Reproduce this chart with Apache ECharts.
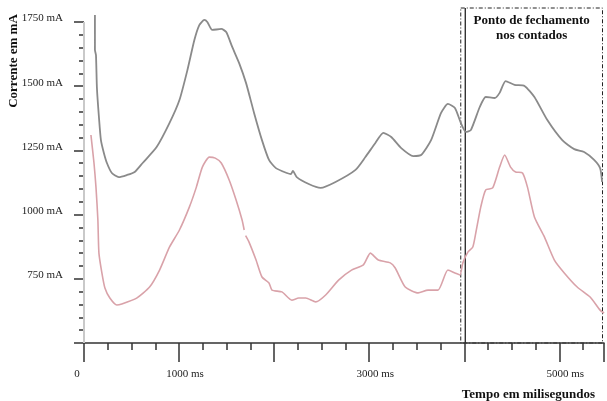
<!DOCTYPE html>
<html><head><meta charset="utf-8">
<script src="https://cdn.jsdelivr.net/npm/echarts@6/dist/echarts.min.js"></script>
<style>html,body{margin:0;padding:0;background:#fff}#c{width:607px;height:401px}</style>
</head><body><div id="c"></div>
<script>
// Time in ms, current in mA
const grayTime = [115,115,126,136,157,178,209,241,293,366,450,533,617,764,900,1004,1088,1161,1213,1266,1297,1349,1444,1496,1559,1632,1705,1789,1872,1946,2019,2134,2176,2197,2238,2364,2489,2646,2856,2960,3065,3149,3232,3337,3463,3546,3651,3756,3828,3902,3964,4017,4069,4163,4226,4320,4372,4435,4529,4634,4738,4874,5031,5157,5261,5366,5429,5450];
const grayCurrent = [1777,1641,1621,1493,1380,1290,1240,1201,1162,1146,1154,1166,1201,1263,1357,1446,1563,1680,1738,1758,1750,1719,1723,1711,1653,1590,1512,1396,1290,1213,1181,1162,1158,1170,1146,1119,1104,1127,1174,1224,1279,1318,1302,1259,1228,1232,1290,1396,1431,1415,1357,1322,1329,1419,1458,1454,1474,1520,1505,1501,1458,1368,1290,1255,1244,1213,1181,1127];
const pinkTime = [73,105,126,146,157,188,220,272,345,397,554,690,795,900,1004,1109,1182,1245,1318,1381,1444,1527,1600,1663,1685,1692,1700,1736,1810,1872,1946,1977,2082,2186,2259,2333,2437,2542,2678,2814,2939,3012,3096,3222,3274,3379,3515,3619,3724,3828,3902,3954,3985,4038,4090,4121,4174,4226,4299,4372,4425,4487,4540,4613,4665,4738,4843,4948,5052,5188,5324,5429,5471];
const pinkCurrent = [1310,1201,1107,979,850,773,714,675,648,652,675,718,784,874,940,1030,1107,1185,1224,1220,1201,1135,1057,979,940,null,918,893,823,757,734,706,699,667,675,675,660,687,745,784,804,850,823,812,792,718,695,706,706,784,773,765,812,854,874,928,1030,1096,1104,1185,1232,1185,1166,1162,1107,991,913,823,773,718,679,628,617];
const xLabelValues = [0,1000,3000,5000];
const yLabelValues = [750,1000,1250,1500,1750];
const closingStart = 4000;
const closingText = 'Ponto de fechamento\nnos contados';

const FONT = '"Liberation Serif", "DejaVu Serif", serif';
const chart = echarts.init(document.getElementById('c'));
const toPairs = (ts, vs) => ts.map((t, i) => [t, vs[i] == null ? '-' : vs[i]]);

chart.setOption({
  animation: false,
  backgroundColor: '#fff',
  grid: {left: 84, right: 0, top: 22, bottom: 58, containLabel: false},
  title: {
    text: 'Tempo em milisegundos', right: 7, top: 383,
    textStyle: {fontFamily: FONT, fontSize: 13, fontWeight: 'bold', color: '#111'}
  },
  xAxis: {
    type: 'value', min: 0, max: 5470, interval: 1000,
    axisLine: {show: true, lineStyle: {color: '#333', width: 1.5}},
    axisTick: {show: true, inside: false, length: 19, lineStyle: {color: '#333', width: 1.5}},
    minorTick: {show: true, splitNumber: 4, length: 7, lineStyle: {color: '#333', width: 1.5}},
    splitLine: {show: false},
    axisLabel: {
      margin: 26, fontFamily: FONT, fontSize: 11, color: '#222',
      formatter: v => xLabelValues.includes(v) ? (v === 0 ? '{a|0}' : '{b|' + v + ' ms}') : '',
      rich: {
        a: {fontFamily: FONT, fontSize: 11, color: '#222', padding: [0, 14, 0, 0]},
        b: {fontFamily: FONT, fontSize: 11, color: '#222', padding: [0, 0, 0, 12]}
      }
    }
  },
  yAxis: {
    type: 'value', min: 500, max: 1750, interval: 250, offset: 8,
    axisLine: {show: false},
    axisTick: {show: true, length: 10, lineStyle: {color: '#333', width: 1.5}},
    minorTick: {show: true, splitNumber: 5, length: 5, lineStyle: {color: '#333', width: 1.5}},
    splitLine: {show: false},
    axisLabel: {
      margin: 13, fontFamily: FONT, fontSize: 11, color: '#222',
      verticalAlign: 'bottom', lineHeight: 7,
      formatter: v => yLabelValues.includes(v) ? v + ' mA' : ''
    }
  },
  series: [
    {
      type: 'line', data: toPairs(grayTime, grayCurrent), showSymbol: false, smooth: 0.2, clip: false,
      lineStyle: {color: '#8a8a8a', width: 1.8},
      markLine: {
        silent: true, symbol: 'none', label: {show: false},
        lineStyle: {color: '#c9c9c9', width: 2, type: 'solid'},
        data: [{xAxis: 0}]
      }
    },
    {
      type: 'line', data: toPairs(pinkTime, pinkCurrent), showSymbol: false, smooth: 0.2, clip: false,
      connectNulls: false,
      lineStyle: {color: '#d9a2a9', width: 1.6}
    }
  ]
});

// Annotation box for the closing point, positioned from the axis scale
const xs = chart.convertToPixel({xAxisIndex: 0}, closingStart);
const xr = chart.convertToPixel({xAxisIndex: 0}, 5470);
const yb = chart.convertToPixel({yAxisIndex: 0}, 500);
const boxTop = 8;
chart.setOption({
  graphic: [
    {
      type: 'text', silent: true, x: 14, y: 61, rotation: Math.PI / 2,
      style: {text: 'Corrente em mA', font: 'bold 13px ' + FONT, fill: '#111', align: 'center', verticalAlign: 'middle'}
    },
    {
      type: 'rect', silent: true,
      shape: {x: xs - 3.5, y: boxTop, width: xr - xs + 2, height: yb - boxTop},
      style: {fill: 'none', stroke: '#222', lineWidth: 1, lineDash: [4, 2, 1, 2]}
    },
    {
      type: 'line', silent: true,
      shape: {x1: xs + 1, y1: boxTop, x2: xs + 1, y2: yb},
      style: {stroke: '#111', lineWidth: 1.2}
    },
    {
      type: 'text', silent: true,
      x: (xs - 3.5 + xr - 1.5) / 2, y: 13,
      style: {text: closingText, font: 'bold 13px ' + FONT, fill: '#111', align: 'center', verticalAlign: 'top', lineHeight: 15}
    }
  ]
});
</script>
</body></html>
